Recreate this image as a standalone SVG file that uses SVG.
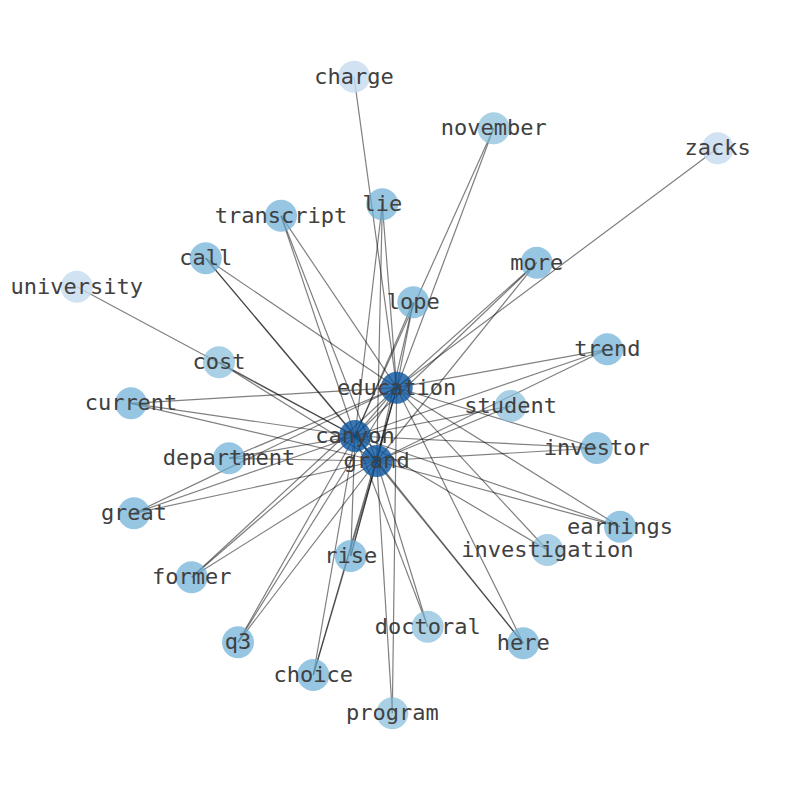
<svg xmlns="http://www.w3.org/2000/svg" width="794" height="790" viewBox="0 0 794 790">
<style>
.e{stroke:#000;stroke-opacity:0.5;stroke-width:1.2;fill:none}
.n{fill:#6baed6;fill-opacity:0.7}
.l{fill:#86bcdc;fill-opacity:0.7}
.x{fill:#c6dbef;fill-opacity:0.8}
.h{fill:#0d559f;fill-opacity:0.8}
text{font-family:"DejaVu Sans Mono","Liberation Mono",monospace;font-size:22px;fill:#404040;text-anchor:middle}
</style>
<rect width="794" height="790" fill="#fff"/>
<g id="edges">
<line class="e" x1="396.7" y1="387.7" x2="355" y2="436"/>
<line class="e" x1="396.7" y1="387.7" x2="376.7" y2="461"/>
<line class="e" x1="355" y1="436" x2="376.7" y2="461"/>
<line class="e" x1="354" y1="76.7" x2="396.7" y2="387.7"/>
<line class="e" x1="76.7" y1="286.7" x2="355" y2="436"/>
<line class="e" x1="717.7" y1="148.3" x2="396.7" y2="387.7"/>
<line class="e" x1="493.7" y1="128.3" x2="396.7" y2="387.7"/>
<line class="e" x1="493.7" y1="128.3" x2="355" y2="436"/>
<line class="e" x1="219" y1="362.3" x2="355" y2="436"/>
<line class="e" x1="219" y1="362.3" x2="376.7" y2="461"/>
<line class="e" x1="510.7" y1="406" x2="355" y2="436"/>
<line class="e" x1="510.7" y1="406" x2="376.7" y2="461"/>
<line class="e" x1="427.7" y1="626.7" x2="355" y2="436"/>
<line class="e" x1="427.7" y1="626.7" x2="376.7" y2="461"/>
<line class="e" x1="547.3" y1="550" x2="396.7" y2="387.7"/>
<line class="e" x1="547.3" y1="550" x2="355" y2="436"/>
<line class="e" x1="392.3" y1="713.3" x2="396.7" y2="387.7"/>
<line class="e" x1="392.3" y1="713.3" x2="376.7" y2="461"/>
<line class="e" x1="382.3" y1="204.3" x2="396.7" y2="387.7"/>
<line class="e" x1="382.3" y1="204.3" x2="355" y2="436"/>
<line class="e" x1="382.3" y1="204.3" x2="376.7" y2="461"/>
<line class="e" x1="281" y1="215.7" x2="396.7" y2="387.7"/>
<line class="e" x1="281" y1="215.7" x2="355" y2="436"/>
<line class="e" x1="281" y1="215.7" x2="376.7" y2="461"/>
<line class="e" x1="205.7" y1="258.3" x2="396.7" y2="387.7"/>
<line class="e" x1="205.7" y1="258.3" x2="355" y2="436"/>
<line class="e" x1="205.7" y1="258.3" x2="376.7" y2="461"/>
<line class="e" x1="536.7" y1="262.7" x2="396.7" y2="387.7"/>
<line class="e" x1="536.7" y1="262.7" x2="355" y2="436"/>
<line class="e" x1="536.7" y1="262.7" x2="376.7" y2="461"/>
<line class="e" x1="413.3" y1="302.3" x2="396.7" y2="387.7"/>
<line class="e" x1="413.3" y1="302.3" x2="355" y2="436"/>
<line class="e" x1="413.3" y1="302.3" x2="376.7" y2="461"/>
<line class="e" x1="607.3" y1="349.3" x2="396.7" y2="387.7"/>
<line class="e" x1="607.3" y1="349.3" x2="355" y2="436"/>
<line class="e" x1="607.3" y1="349.3" x2="376.7" y2="461"/>
<line class="e" x1="131" y1="403.3" x2="396.7" y2="387.7"/>
<line class="e" x1="131" y1="403.3" x2="355" y2="436"/>
<line class="e" x1="131" y1="403.3" x2="376.7" y2="461"/>
<line class="e" x1="596.7" y1="448" x2="396.7" y2="387.7"/>
<line class="e" x1="596.7" y1="448" x2="355" y2="436"/>
<line class="e" x1="596.7" y1="448" x2="376.7" y2="461"/>
<line class="e" x1="229" y1="458.3" x2="396.7" y2="387.7"/>
<line class="e" x1="229" y1="458.3" x2="355" y2="436"/>
<line class="e" x1="229" y1="458.3" x2="376.7" y2="461"/>
<line class="e" x1="134" y1="513.3" x2="396.7" y2="387.7"/>
<line class="e" x1="134" y1="513.3" x2="355" y2="436"/>
<line class="e" x1="134" y1="513.3" x2="376.7" y2="461"/>
<line class="e" x1="620" y1="526.7" x2="396.7" y2="387.7"/>
<line class="e" x1="620" y1="526.7" x2="355" y2="436"/>
<line class="e" x1="620" y1="526.7" x2="376.7" y2="461"/>
<line class="e" x1="350.7" y1="556" x2="396.7" y2="387.7"/>
<line class="e" x1="350.7" y1="556" x2="355" y2="436"/>
<line class="e" x1="350.7" y1="556" x2="376.7" y2="461"/>
<line class="e" x1="191.7" y1="577.3" x2="396.7" y2="387.7"/>
<line class="e" x1="191.7" y1="577.3" x2="355" y2="436"/>
<line class="e" x1="191.7" y1="577.3" x2="376.7" y2="461"/>
<line class="e" x1="238" y1="642.3" x2="396.7" y2="387.7"/>
<line class="e" x1="238" y1="642.3" x2="355" y2="436"/>
<line class="e" x1="238" y1="642.3" x2="376.7" y2="461"/>
<line class="e" x1="523.3" y1="643.3" x2="396.7" y2="387.7"/>
<line class="e" x1="523.3" y1="643.3" x2="355" y2="436"/>
<line class="e" x1="523.3" y1="643.3" x2="376.7" y2="461"/>
<line class="e" x1="313.3" y1="675" x2="396.7" y2="387.7"/>
<line class="e" x1="313.3" y1="675" x2="355" y2="436"/>
<line class="e" x1="313.3" y1="675" x2="376.7" y2="461"/>
</g>
<g id="node-charge"><circle class="x" cx="354" cy="76.7" r="16"/><text x="354" y="83.7">charge</text></g>
<g id="node-november"><circle class="l" cx="493.7" cy="128.3" r="16"/><text x="493.7" y="135.3">november</text></g>
<g id="node-zacks"><circle class="x" cx="717.7" cy="148.3" r="16"/><text x="717.7" y="155.3">zacks</text></g>
<g id="node-lie"><circle class="n" cx="382.3" cy="204.3" r="16"/><text x="382.3" y="211.3">lie</text></g>
<g id="node-transcript"><circle class="n" cx="281" cy="215.7" r="16"/><text x="281" y="222.7">transcript</text></g>
<g id="node-call"><circle class="n" cx="205.7" cy="258.3" r="16"/><text x="205.7" y="265.3">call</text></g>
<g id="node-more"><circle class="n" cx="536.7" cy="262.7" r="16"/><text x="536.7" y="269.7">more</text></g>
<g id="node-university"><circle class="x" cx="76.7" cy="286.7" r="16"/><text x="76.7" y="293.7">university</text></g>
<g id="node-lope"><circle class="n" cx="413.3" cy="302.3" r="16"/><text x="413.3" y="309.3">lope</text></g>
<g id="node-trend"><circle class="n" cx="607.3" cy="349.3" r="16"/><text x="607.3" y="356.3">trend</text></g>
<g id="node-cost"><circle class="l" cx="219" cy="362.3" r="16"/><text x="219" y="369.3">cost</text></g>
<g id="node-current"><circle class="n" cx="131" cy="403.3" r="16"/><text x="131" y="410.3">current</text></g>
<g id="node-student"><circle class="l" cx="510.7" cy="406" r="16"/><text x="510.7" y="413">student</text></g>
<g id="node-investor"><circle class="n" cx="596.7" cy="448" r="16"/><text x="596.7" y="455">investor</text></g>
<g id="node-department"><circle class="n" cx="229" cy="458.3" r="16"/><text x="229" y="465.3">department</text></g>
<g id="node-great"><circle class="n" cx="134" cy="513.3" r="16"/><text x="134" y="520.3">great</text></g>
<g id="node-earnings"><circle class="n" cx="620" cy="526.7" r="16"/><text x="620" y="533.7">earnings</text></g>
<g id="node-investigation"><circle class="l" cx="547.3" cy="550" r="16"/><text x="547.3" y="557">investigation</text></g>
<g id="node-rise"><circle class="n" cx="350.7" cy="556" r="16"/><text x="350.7" y="563">rise</text></g>
<g id="node-former"><circle class="n" cx="191.7" cy="577.3" r="16"/><text x="191.7" y="584.3">former</text></g>
<g id="node-doctoral"><circle class="l" cx="427.7" cy="626.7" r="16"/><text x="427.7" y="633.7">doctoral</text></g>
<g id="node-q3"><circle class="n" cx="238" cy="642.3" r="16"/><text x="238" y="649.3">q3</text></g>
<g id="node-here"><circle class="n" cx="523.3" cy="643.3" r="16"/><text x="523.3" y="650.3">here</text></g>
<g id="node-choice"><circle class="n" cx="313.3" cy="675" r="16"/><text x="313.3" y="682">choice</text></g>
<g id="node-program"><circle class="l" cx="392.3" cy="713.3" r="16"/><text x="392.3" y="720.3">program</text></g>
<g id="node-grand"><circle class="h" cx="376.7" cy="461" r="16"/><text x="376.7" y="468">grand</text></g>
<g id="node-canyon"><circle class="h" cx="355" cy="436" r="16"/><text x="355" y="443">canyon</text></g>
<g id="node-education"><circle class="h" cx="396.7" cy="387.7" r="16"/><text x="396.7" y="394.7">education</text></g>
</svg>
